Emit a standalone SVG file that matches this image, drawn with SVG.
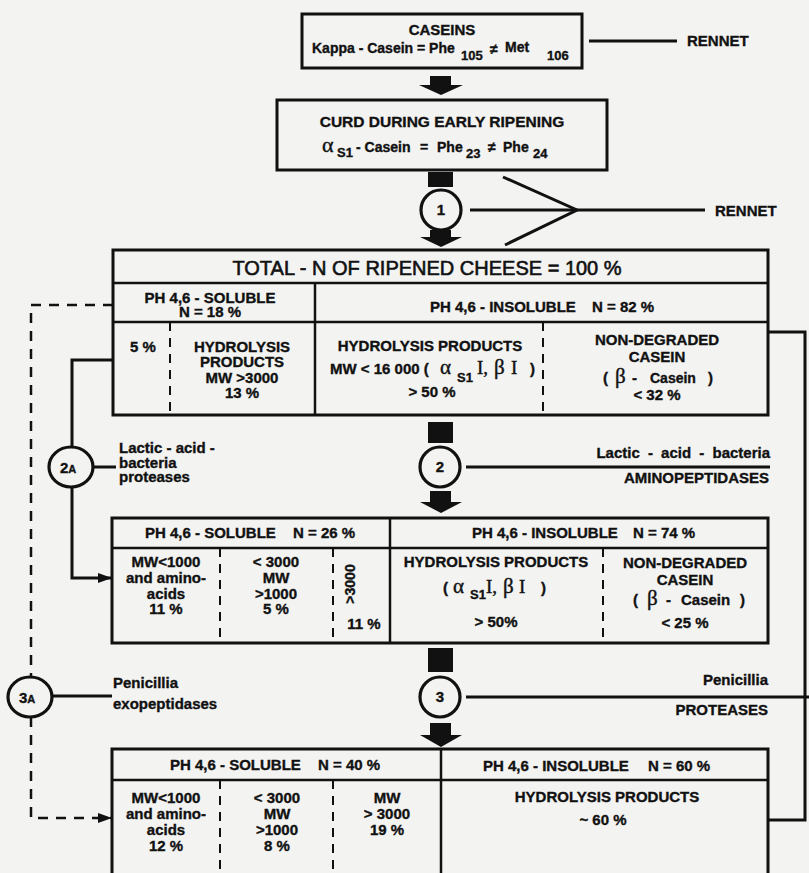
<svg xmlns="http://www.w3.org/2000/svg" width="809" height="873" viewBox="0 0 809 873">
<style>
.bg{fill:#f3f3f1}
.box{fill:none;stroke:#111;stroke-width:3}
.div{stroke:#111;stroke-width:2.5;fill:none}
.dsh{stroke:#111;stroke-width:2;stroke-dasharray:9 7;fill:none}
.ln{stroke:#111;stroke-width:3;fill:none}
.ldash{stroke:#111;stroke-width:2.5;stroke-dasharray:10 8;fill:none}
.fill{fill:#111}
.circ{fill:#f3f3f1;stroke:#111;stroke-width:3.2}
.t{font-family:"Liberation Sans",Arial,sans-serif;font-weight:bold;font-size:15px;fill:#111;stroke:#111;stroke-width:0.35}
.s{font-size:14px}
.sub{font-size:13px}
.m{text-anchor:middle}
.r{text-anchor:end}
.g{font-family:"Liberation Serif","Times New Roman",serif;font-weight:normal;font-size:21px;fill:#111;stroke:#111;stroke-width:0.4}
</style>
<defs>
<marker id="ah" markerUnits="userSpaceOnUse" markerWidth="14" markerHeight="10" refX="14" refY="5" orient="auto">
<path d="M0,0 L14,5 L0,10 Z" fill="#111"/>
</marker>
</defs>
<rect class="bg" x="0" y="0" width="809" height="873"/>

<g id="connectors">
<line class="ln" x1="589" y1="41" x2="677" y2="41"/>
<path class="fill" d="M430,76 H451 V85 H463 L441,95 L419,85 H430 Z"/>
<rect class="fill" x="428" y="172" width="25" height="15"/>
<path class="fill" d="M430,230 H451 V237 H462 L441,247 L420,237 H430 Z"/>
<line class="ln" x1="470" y1="210" x2="705" y2="210"/>
<polyline class="ln" points="503,177 577,210 505,245"/>
<rect class="fill" x="428" y="422" width="25" height="21"/>
<path class="fill" d="M430,491 H451 V502 H462 L441,513 L420,502 H430 Z"/>
<line class="ln" x1="466" y1="467" x2="770" y2="467"/>
<rect class="fill" x="428" y="648" width="25" height="24"/>
<path class="fill" d="M430,723 H451 V735 H462 L441,747 L420,735 H430 Z"/>
<line class="ln" x1="466" y1="697" x2="809" y2="697"/>
<polyline class="ln" points="768,332 805,332 805,820 768,820"/>
<path class="ln" d="M113,360 H72 V447"/>
<path class="ln" d="M72,487 V578 H112" marker-end="url(#ah)"/>
<line class="ln" x1="93" y1="467" x2="116" y2="467"/>
<path class="ldash" d="M113,305 H31 V677"/>
<path class="ldash" d="M31,717 V818 H112" marker-end="url(#ah)"/>
<line class="ln" x1="52" y1="696" x2="112" y2="696"/>
</g>

<g id="caseins">
<rect class="box" x="302" y="14" width="280" height="54"/>
<text class="t m" x="442" y="35">CASEINS</text>
<text class="t s" x="312" y="53">Kappa - Casein = Phe</text>
<text class="t sub" x="461" y="60">105</text>
<text class="t s" x="490" y="54">≠</text>
<text class="t s" x="505" y="52">Met</text>
<text class="t sub" x="547" y="60">106</text>
</g>
<g id="rennet-label-1"><text class="t" x="687" y="46">RENNET</text></g>

<g id="curd">
<rect class="box" x="277" y="100" width="330" height="70"/>
<text class="t m" style="font-size:15.5px" x="442" y="127">CURD DURING EARLY RIPENING</text>
<text class="g" style="font-size:22px" x="322" y="152">α</text>
<text class="t sub" x="337" y="157">S1</text>
<text class="t s" x="356" y="152">- Casein</text>
<text class="t s" x="420" y="152">=</text>
<text class="t s" x="437" y="152">Phe</text>
<text class="t sub" x="466" y="158">23</text>
<text class="t s" x="488" y="152">≠</text>
<text class="t s" x="503" y="152">Phe</text>
<text class="t sub" x="533" y="158">24</text>
</g>

<g id="step1">
<circle class="circ" cx="441" cy="210" r="20"/>
<text class="t m" x="441" y="215">1</text>
<text class="t" x="715" y="216">RENNET</text>
</g>

<g id="total">
<rect class="box" x="113" y="250" width="655" height="165"/>
<line class="div" x1="113" y1="283" x2="768" y2="283"/>
<line class="div" x1="113" y1="322" x2="768" y2="322"/>
<line class="div" x1="315" y1="283" x2="315" y2="415"/>
<line class="dsh" x1="170" y1="322" x2="170" y2="415"/>
<line class="dsh" x1="543" y1="322" x2="543" y2="415"/>
<text class="t m" style="font-size:20px;font-weight:normal;stroke-width:0.6" x="427" y="275">TOTAL - N OF RIPENED CHEESE = 100 %</text>
<text class="t m" x="210" y="303">PH 4,6 - SOLUBLE</text>
<text class="t m" x="210" y="317">N = 18 %</text>
<text class="t" x="430" y="312">PH 4,6 - INSOLUBLE</text>
<text class="t" x="592" y="312">N = 82 %</text>
<text class="t m" x="143" y="352">5 %</text>
<text class="t m" x="242" y="352">HYDROLYSIS</text>
<text class="t m" x="242" y="367">PRODUCTS</text>
<text class="t m" x="242" y="383">MW &gt;3000</text>
<text class="t m" x="242" y="398">13 %</text>
<text class="t m" x="430" y="351">HYDROLYSIS PRODUCTS</text>
<text class="t" x="330" y="374">MW &lt; 16 000 (</text>
<text class="g" x="440" y="374">α</text>
<text class="t sub" x="457" y="382">S1</text>
<text class="g" style="font-size:19px" x="477" y="374">I,</text>
<text class="g" x="494" y="374">β</text>
<text class="g" style="font-size:19px" x="511" y="374">I</text>
<text class="t" x="530" y="374">)</text>
<text class="t m" x="432" y="397">&gt; 50 %</text>
<text class="t m" x="657" y="345">NON-DEGRADED</text>
<text class="t m" x="657" y="362">CASEIN</text>
<text class="t" x="603" y="383">(</text>
<text class="g" x="615" y="383">β</text>
<text class="t" x="632" y="383">-</text>
<text class="t s" x="650" y="383">Casein</text>
<text class="t" x="708" y="383">)</text>
<text class="t m" x="657" y="400">&lt; 32 %</text>
</g>

<g id="step2">
<circle class="circ" cx="440" cy="467" r="20"/>
<text class="t m" x="440" y="472">2</text>
<text class="t r" style="word-spacing:4px" x="770" y="458">Lactic - acid - bacteria</text>
<text class="t r" x="769" y="483">AMINOPEPTIDASES</text>
</g>

<g id="step2a">
<ellipse class="circ" cx="71" cy="467" rx="22" ry="20"/>
<text class="t" x="60" y="473">2<tspan style="font-size:11px">A</tspan></text>
<text class="t" x="119" y="453">Lactic - acid -</text>
<text class="t" x="119" y="468">bacteria</text>
<text class="t" x="119" y="482">proteases</text>
</g>

<g id="stage2">
<rect class="box" x="112" y="518" width="656" height="125"/>
<line class="div" x1="112" y1="548" x2="768" y2="548"/>
<line class="div" x1="390" y1="518" x2="390" y2="643"/>
<line class="dsh" x1="220" y1="548" x2="220" y2="643"/>
<line class="dsh" x1="333" y1="548" x2="333" y2="643"/>
<line class="dsh" x1="603" y1="548" x2="603" y2="643"/>
<text class="t" x="145" y="538">PH 4,6 - SOLUBLE</text>
<text class="t" x="293" y="538">N = 26 %</text>
<text class="t" x="472" y="538">PH 4,6 - INSOLUBLE</text>
<text class="t" x="633" y="538">N = 74 %</text>
<text class="t m" x="166" y="567">MW&lt;1000</text>
<text class="t m" x="166" y="583">and amino-</text>
<text class="t m" x="166" y="599">acids</text>
<text class="t m" x="166" y="614">11 %</text>
<text class="t m" x="276" y="567">&lt; 3000</text>
<text class="t m" x="276" y="583">MW</text>
<text class="t m" x="276" y="599">&gt;1000</text>
<text class="t m" x="276" y="614">5 %</text>
<text class="t m s" transform="translate(355,584) rotate(-90)" x="0" y="0">&gt;3000</text>
<text class="t m" x="364" y="629">11 %</text>
<text class="t m" x="496" y="567">HYDROLYSIS PRODUCTS</text>
<text class="t" x="443" y="593">(</text>
<text class="g" x="453" y="593">α</text>
<text class="t sub" x="470" y="599">S1</text>
<text class="g" style="font-size:19px" x="486" y="593">I,</text>
<text class="g" x="503" y="593">β</text>
<text class="g" style="font-size:19px" x="519" y="593">I</text>
<text class="t" x="541" y="593">)</text>
<text class="t m" x="496" y="627">&gt; 50%</text>
<text class="t m" x="685" y="568">NON-DEGRADED</text>
<text class="t m" x="685" y="585">CASEIN</text>
<text class="t" x="633" y="605">(</text>
<text class="g" x="647" y="605">β</text>
<text class="t" x="666" y="605">-</text>
<text class="t" x="681" y="605">Casein</text>
<text class="t" x="740" y="605">)</text>
<text class="t m" x="685" y="628">&lt; 25 %</text>
</g>

<g id="step3">
<circle class="circ" cx="440" cy="697" r="20"/>
<text class="t m" x="440" y="702">3</text>
<text class="t r" x="768" y="685">Penicillia</text>
<text class="t r" x="768" y="715">PROTEASES</text>
</g>

<g id="step3a">
<ellipse class="circ" cx="30" cy="697" rx="22" ry="20"/>
<text class="t" x="19" y="703">3<tspan style="font-size:11px">A</tspan></text>
<text class="t" x="113" y="688">Penicillia</text>
<text class="t" x="113" y="709">exopeptidases</text>
</g>

<g id="stage3">
<polyline class="box" points="112,880 112,749 768,749 768,880"/>
<line class="div" x1="112" y1="780" x2="768" y2="780"/>
<line class="div" x1="441" y1="749" x2="441" y2="880"/>
<line class="dsh" x1="220" y1="780" x2="220" y2="880"/>
<line class="dsh" x1="333" y1="780" x2="333" y2="880"/>
<text class="t" x="170" y="770">PH 4,6 - SOLUBLE</text>
<text class="t" x="318" y="770">N = 40 %</text>
<text class="t" x="483" y="771">PH 4,6 - INSOLUBLE</text>
<text class="t" x="648" y="771">N = 60 %</text>
<text class="t m" x="166" y="803">MW&lt;1000</text>
<text class="t m" x="166" y="819">and amino-</text>
<text class="t m" x="166" y="835">acids</text>
<text class="t m" x="166" y="851">12 %</text>
<text class="t m" x="277" y="803">&lt; 3000</text>
<text class="t m" x="277" y="819">MW</text>
<text class="t m" x="277" y="835">&gt;1000</text>
<text class="t m" x="277" y="851">8 %</text>
<text class="t m" x="387" y="803">MW</text>
<text class="t m" x="387" y="819">&gt; 3000</text>
<text class="t m" x="387" y="835">19 %</text>
<text class="t m" x="607" y="802">HYDROLYSIS PRODUCTS</text>
<text class="t m" x="603" y="825">~ 60 %</text>
</g>
</svg>
